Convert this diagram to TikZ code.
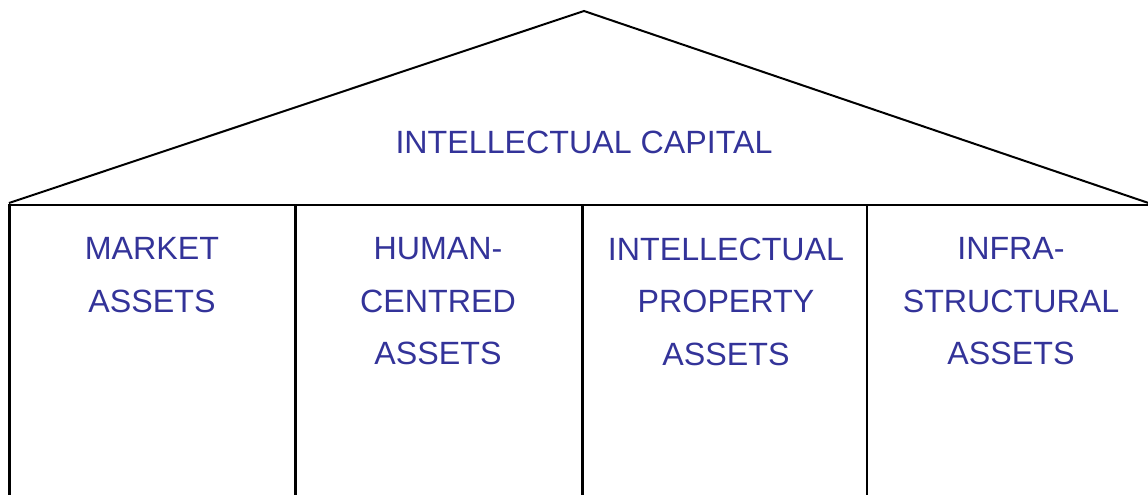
\documentclass[tikz,border=0pt]{standalone}
\usepackage{fontspec}
\setmainfont{Liberation Sans}
\definecolor{txtblue}{RGB}{51,51,153}
\begin{document}
\begin{tikzpicture}[x=1pt,y=-1pt,
  label/.style={text=txtblue,font=\fontsize{32.2}{52.5}\selectfont,align=center,inner sep=0pt},
  colline/.style={line width=3pt,black},
  thinline/.style={line width=2.2pt,black}]
\useasboundingbox (0,0) rectangle (1148,495);
% roof
\draw[line width=2pt,line join=miter] (9,203) -- (584,11) -- (1150,203.5);
% floor line
\draw[line width=2.5pt] (8,205) -- (1150,205);
% columns
\draw[thinline] (9.5,205) -- (9.5,497);
\draw[colline] (295,205) -- (295,497);
\draw[colline] (582,205) -- (582,497);
\draw[thinline] (867,205) -- (867,497);
% texts
\node[label,anchor=base] (ic) at (584,153.5) {INTELLECTUAL CAPITAL};
\node[label,anchor=north] (market) at (152,237.5) {MARKET\\ASSETS};
\node[label,anchor=north] (human) at (438,237.5) {HUMAN-\\CENTRED\\ASSETS};
\node[label,anchor=north] (ip) at (726,237.5) {INTELLECTUAL\\PROPERTY\\ASSETS};
\node[label,anchor=north] (infra) at (1011,237.5) {INFRA-\\STRUCTURAL\\ASSETS};
\end{tikzpicture}
\end{document}
